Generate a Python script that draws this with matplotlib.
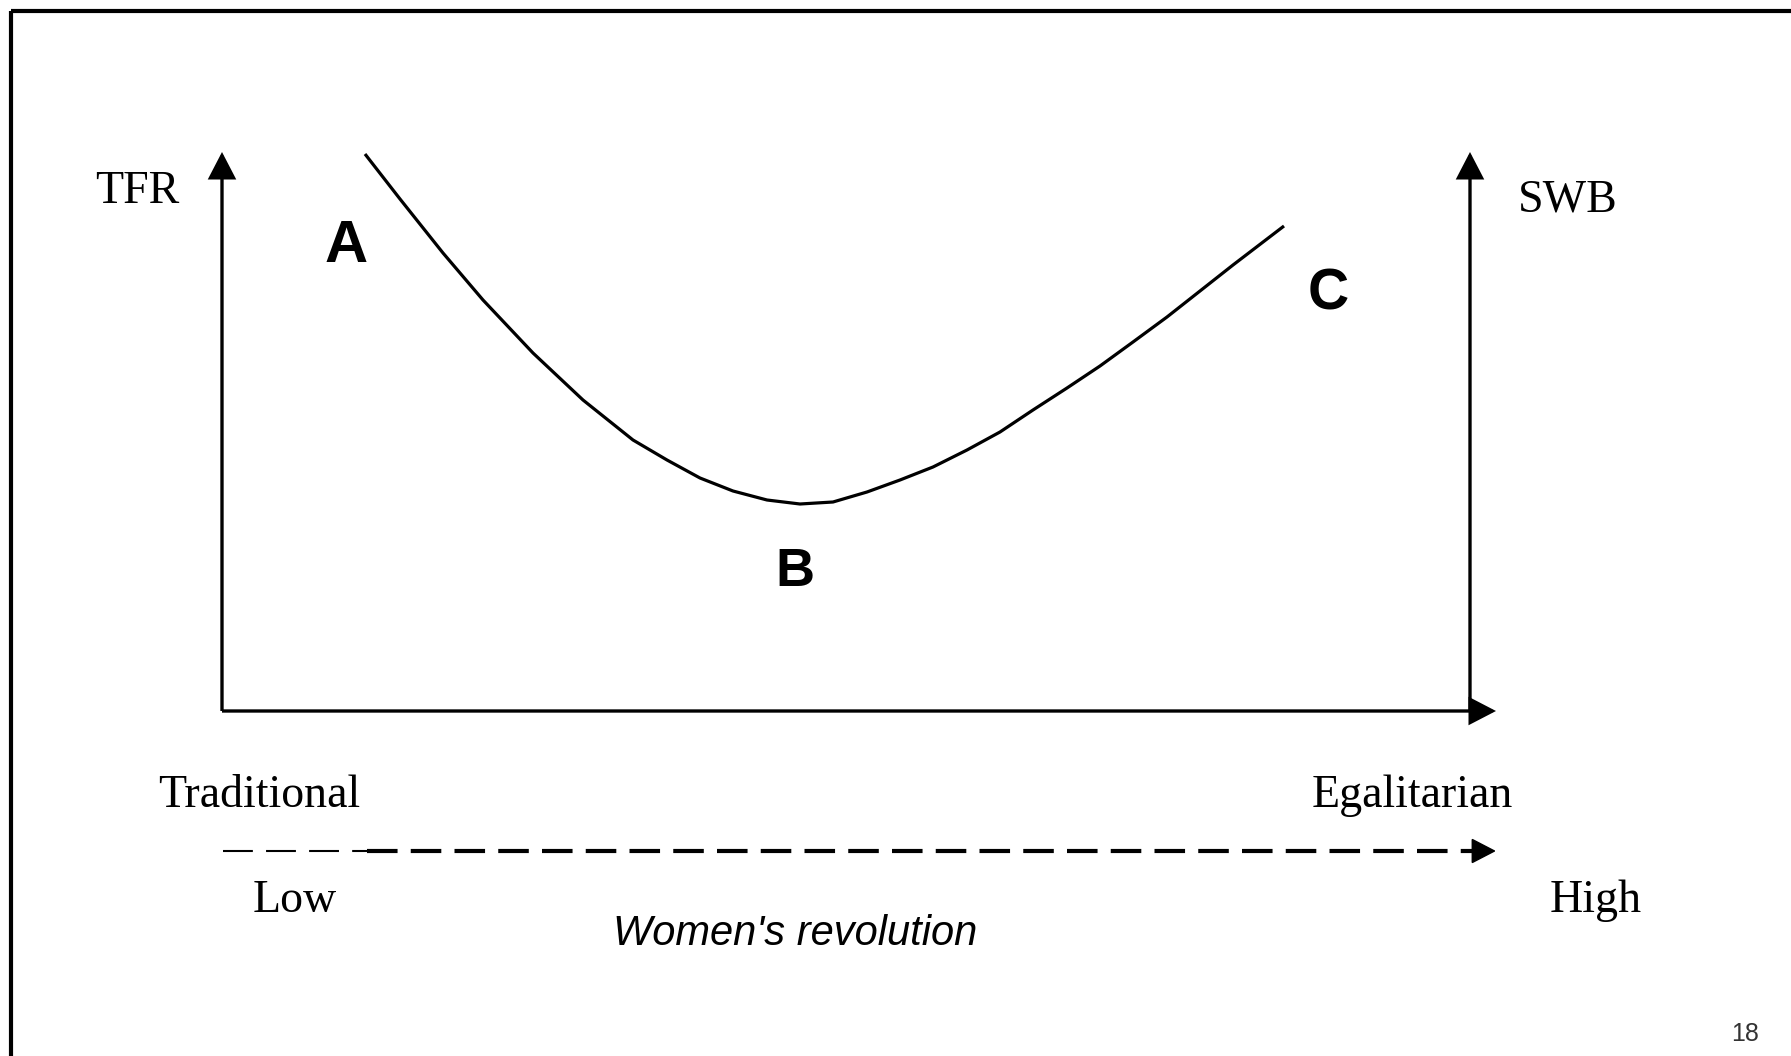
import matplotlib
matplotlib.use("Agg")
import matplotlib.pyplot as plt
from matplotlib.patches import FancyArrowPatch

plt.rcParams['lines.scale_dashes'] = False

W, H = 1791, 1056

# Curve (x = women's revolution position, y = level; picture units, y down)
curve_x = [365, 400, 443, 483, 533, 583, 633, 667, 700, 733, 767, 800, 833, 867, 900,
           933, 967, 1000, 1033, 1067, 1100, 1133, 1167, 1200, 1233, 1267, 1284]
curve_y = [154, 199, 253, 300, 353, 400, 440, 460, 478, 491, 500, 504, 502, 492, 480,
           467, 450, 432, 410, 388, 366, 342, 317, 291, 265, 239, 226]

point_labels = ["A", "B", "C"]
point_pos = [(325, 262), (775, 586), (1308, 309)]
point_sizes = [43, 39, 41]

axis_labels = ["TFR", "SWB", "Traditional", "Egalitarian", "Low", "High"]
axis_label_pos = [(95, 203), (1518, 211), (158, 807), (1312, 807), (253, 912), (1550, 912)]

fig = plt.figure(figsize=(W / 100, H / 100), dpi=100)
ax = fig.add_axes([0, 0, 1, 1])
ax.set_xlim(0, W)
ax.set_ylim(H, 0)
ax.axis('off')

# frame (top and left)
ax.plot([11, W], [11, 11], color='black', lw=3.0, solid_capstyle='butt')
ax.plot([11, 11], [11, H], color='black', lw=3.0, solid_capstyle='butt')

def arrow(p0, p1, lw=2.4):
    a = FancyArrowPatch(p0, p1, arrowstyle='-|>,head_length=16,head_width=8.3',
                        mutation_scale=1, color='black', lw=lw,
                        shrinkA=0, shrinkB=0, joinstyle='miter', capstyle='butt')
    ax.add_patch(a)

# axes
arrow((222, 711), (222, 152))
arrow((222, 711), (1496, 711))
arrow((1470, 711), (1470, 152))

# dashed arrow
ax.plot([223, 367], [851, 851], color='black', lw=1.5, linestyle=(0, (21.5, 9.5)))
ax.plot([367, 1476], [851, 851], color='black', lw=3.0, linestyle=(0, (22, 9.5)))
arrow((1474, 851), (1496, 851), lw=1)

# curve
ax.plot(curve_x, curve_y, color='black', lw=2.3, solid_capstyle='butt', solid_joinstyle='round')

for lab, (x, y), s in zip(point_labels, point_pos, point_sizes):
    ax.text(x, y, lab, fontsize=s, fontweight='bold', family='Liberation Sans', va='baseline', ha='left')

for lab, (x, y) in zip(axis_labels, axis_label_pos):
    ax.text(x, y, lab, fontsize=33, family='Liberation Serif', va='baseline', ha='left')

ax.text(613, 945, "Women's revolution", fontsize=30, style='italic', family='Liberation Sans',
        va='baseline', ha='left')
ax.text(1731, 1041, "18", fontsize=18, family='Liberation Sans', color='#333333', va='baseline', ha='left')

fig.savefig('out.png', dpi=100)
